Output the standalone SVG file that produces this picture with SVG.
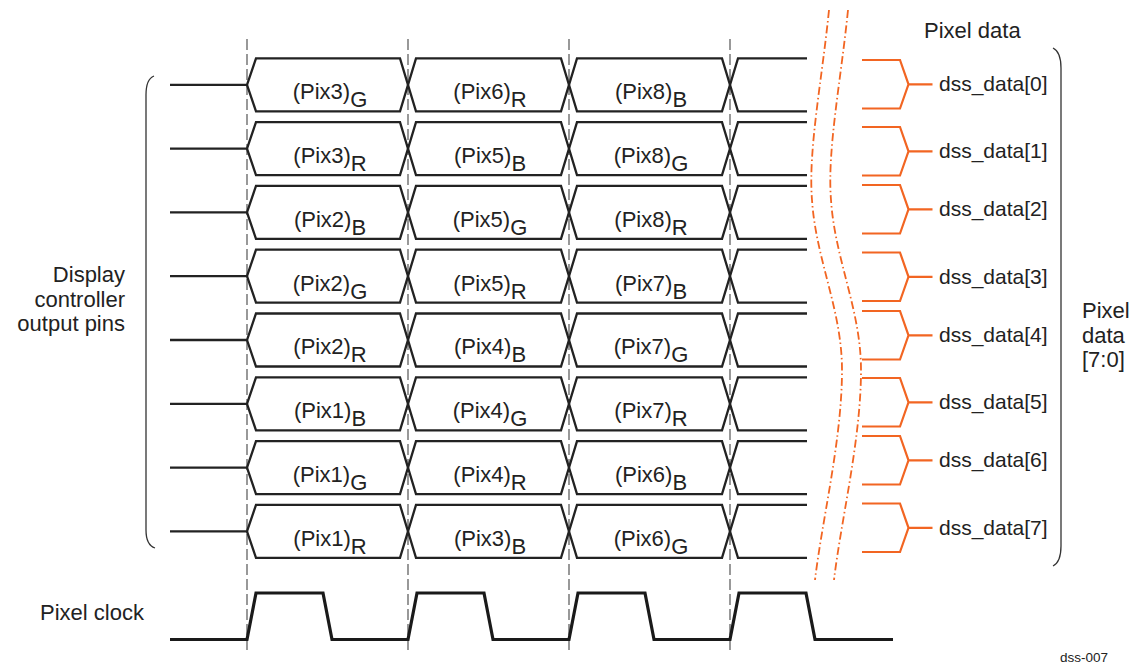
<svg xmlns="http://www.w3.org/2000/svg" width="1129" height="664" viewBox="0 0 1129 664">
<style>
.bus{fill:none;stroke:#222;stroke-width:2.3;stroke-linejoin:miter}
.clk{fill:none;stroke:#1a1a1a;stroke-width:3.2;stroke-linejoin:miter}
.grid{stroke:#555;stroke-width:1.2;stroke-dasharray:11 4;fill:none}
.brk{fill:none;stroke:#F26522;stroke-width:2.2}
.cut{fill:none;stroke:#F26522;stroke-width:1.8;stroke-dasharray:8 3 1.5 3}
.brace{fill:none;stroke:#333;stroke-width:1.3}
text{font-family:"Liberation Sans",Arial,sans-serif;font-size:22px;fill:#222}
.lbl{text-anchor:middle}
.dss{font-size:21px}
.small{font-size:13.5px}
</style>
<rect width="1129" height="664" fill="#fff"/>
<g id="connectors">
<path class="grid" d="M247,39V651M408,39V651M569,39V651M730,39V651"/>
<path class="cut" d="M829,10 C822,80 808,150 812,200 C816,260 842,310 842,370 C842,440 822,520 815,580"/>
<path class="cut" d="M848,10 C841,80 827,150 831,200 C835,260 861,310 861,370 C861,440 841,520 834,580"/>
</g>
<g id="left-label">
<path class="brace" d="M154,76 Q146,79 146,95 L146,530 Q146,545 155,548"/>
<text x="125" y="282" text-anchor="end">Display</text>
<text x="125" y="307" text-anchor="end">controller</text>
<text x="125" y="331" text-anchor="end">output pins</text>
</g>
<g id="row0">
<path class="bus" d="M170,84.8H247L256,58.3H400L416,111.3H561L577,58.3H722L738,111.3H807"/>
<path class="bus" d="M247,84.8L256,111.3H400L416,58.3H561L577,111.3H722L738,58.3H807"/>
<text class="lbl" y="99.3"><tspan x="330">(Pix3)</tspan><tspan dy="8">G</tspan></text>
<text class="lbl" y="99.3"><tspan x="490">(Pix6)</tspan><tspan dy="8">R</tspan></text>
<text class="lbl" y="99.3"><tspan x="651">(Pix8)</tspan><tspan dy="8">B</tspan></text>
</g>
<g id="row1" transform="translate(0,63.8)">
<path class="bus" d="M170,84.8H247L256,58.3H400L416,111.3H561L577,58.3H722L738,111.3H807"/>
<path class="bus" d="M247,84.8L256,111.3H400L416,58.3H561L577,111.3H722L738,58.3H807"/>
<text class="lbl" y="99.3"><tspan x="330">(Pix3)</tspan><tspan dy="8">R</tspan></text>
<text class="lbl" y="99.3"><tspan x="490">(Pix5)</tspan><tspan dy="8">B</tspan></text>
<text class="lbl" y="99.3"><tspan x="651">(Pix8)</tspan><tspan dy="8">G</tspan></text>
</g>
<g id="row2" transform="translate(0,127.6)">
<path class="bus" d="M170,84.8H247L256,58.3H400L416,111.3H561L577,58.3H722L738,111.3H807"/>
<path class="bus" d="M247,84.8L256,111.3H400L416,58.3H561L577,111.3H722L738,58.3H807"/>
<text class="lbl" y="99.3"><tspan x="330">(Pix2)</tspan><tspan dy="8">B</tspan></text>
<text class="lbl" y="99.3"><tspan x="490">(Pix5)</tspan><tspan dy="8">G</tspan></text>
<text class="lbl" y="99.3"><tspan x="651">(Pix8)</tspan><tspan dy="8">R</tspan></text>
</g>
<g id="row3" transform="translate(0,191.4)">
<path class="bus" d="M170,84.8H247L256,58.3H400L416,111.3H561L577,58.3H722L738,111.3H807"/>
<path class="bus" d="M247,84.8L256,111.3H400L416,58.3H561L577,111.3H722L738,58.3H807"/>
<text class="lbl" y="99.3"><tspan x="330">(Pix2)</tspan><tspan dy="8">G</tspan></text>
<text class="lbl" y="99.3"><tspan x="490">(Pix5)</tspan><tspan dy="8">R</tspan></text>
<text class="lbl" y="99.3"><tspan x="651">(Pix7)</tspan><tspan dy="8">B</tspan></text>
</g>
<g id="row4" transform="translate(0,255.2)">
<path class="bus" d="M170,84.8H247L256,58.3H400L416,111.3H561L577,58.3H722L738,111.3H807"/>
<path class="bus" d="M247,84.8L256,111.3H400L416,58.3H561L577,111.3H722L738,58.3H807"/>
<text class="lbl" y="99.3"><tspan x="330">(Pix2)</tspan><tspan dy="8">R</tspan></text>
<text class="lbl" y="99.3"><tspan x="490">(Pix4)</tspan><tspan dy="8">B</tspan></text>
<text class="lbl" y="99.3"><tspan x="651">(Pix7)</tspan><tspan dy="8">G</tspan></text>
</g>
<g id="row5" transform="translate(0,319)">
<path class="bus" d="M170,84.8H247L256,58.3H400L416,111.3H561L577,58.3H722L738,111.3H807"/>
<path class="bus" d="M247,84.8L256,111.3H400L416,58.3H561L577,111.3H722L738,58.3H807"/>
<text class="lbl" y="99.3"><tspan x="330">(Pix1)</tspan><tspan dy="8">B</tspan></text>
<text class="lbl" y="99.3"><tspan x="490">(Pix4)</tspan><tspan dy="8">G</tspan></text>
<text class="lbl" y="99.3"><tspan x="651">(Pix7)</tspan><tspan dy="8">R</tspan></text>
</g>
<g id="row6" transform="translate(0,382.8)">
<path class="bus" d="M170,84.8H247L256,58.3H400L416,111.3H561L577,58.3H722L738,111.3H807"/>
<path class="bus" d="M247,84.8L256,111.3H400L416,58.3H561L577,111.3H722L738,58.3H807"/>
<text class="lbl" y="99.3"><tspan x="330">(Pix1)</tspan><tspan dy="8">G</tspan></text>
<text class="lbl" y="99.3"><tspan x="490">(Pix4)</tspan><tspan dy="8">R</tspan></text>
<text class="lbl" y="99.3"><tspan x="651">(Pix6)</tspan><tspan dy="8">B</tspan></text>
</g>
<g id="row7" transform="translate(0,446.6)">
<path class="bus" d="M170,84.8H247L256,58.3H400L416,111.3H561L577,58.3H722L738,111.3H807"/>
<path class="bus" d="M247,84.8L256,111.3H400L416,58.3H561L577,111.3H722L738,58.3H807"/>
<text class="lbl" y="99.3"><tspan x="330">(Pix1)</tspan><tspan dy="8">R</tspan></text>
<text class="lbl" y="99.3"><tspan x="490">(Pix3)</tspan><tspan dy="8">B</tspan></text>
<text class="lbl" y="99.3"><tspan x="651">(Pix6)</tspan><tspan dy="8">G</tspan></text>
</g>
<g id="pixel-clock">
<path class="clk" d="M170,639.5H247L256,593H323L332,639.5H408L417,593H484L493,639.5H569L578,593H645L654,639.5H730L739,593H806L815,639.5H893"/>
<text x="40" y="620">Pixel clock</text>
</g>
<g id="pixel-data">
<text x="924" y="38">Pixel data</text>
<g id="dss0" transform="translate(0,60)"><path class="brk" d="M862,0H900L908.5,24.3L900,48.5H862M908.5,24.3H932.5"/><text class="dss" x="939" y="31.3">dss_data[0]</text></g>
<g id="dss1" transform="translate(0,127)"><path class="brk" d="M862,0H900L908.5,24.3L900,48.5H862M908.5,24.3H932.5"/><text class="dss" x="939" y="31.3">dss_data[1]</text></g>
<g id="dss2" transform="translate(0,185)"><path class="brk" d="M862,0H900L908.5,24.3L900,48.5H862M908.5,24.3H932.5"/><text class="dss" x="939" y="31.3">dss_data[2]</text></g>
<g id="dss3" transform="translate(0,252.5)"><path class="brk" d="M862,0H900L908.5,24.3L900,48.5H862M908.5,24.3H932.5"/><text class="dss" x="939" y="31.3">dss_data[3]</text></g>
<g id="dss4" transform="translate(0,311)"><path class="brk" d="M862,0H900L908.5,24.3L900,48.5H862M908.5,24.3H932.5"/><text class="dss" x="939" y="31.3">dss_data[4]</text></g>
<g id="dss5" transform="translate(0,378)"><path class="brk" d="M862,0H900L908.5,24.3L900,48.5H862M908.5,24.3H932.5"/><text class="dss" x="939" y="31.3">dss_data[5]</text></g>
<g id="dss6" transform="translate(0,436)"><path class="brk" d="M862,0H900L908.5,24.3L900,48.5H862M908.5,24.3H932.5"/><text class="dss" x="939" y="31.3">dss_data[6]</text></g>
<g id="dss7" transform="translate(0,503.5)"><path class="brk" d="M862,0H900L908.5,24.3L900,48.5H862M908.5,24.3H932.5"/><text class="dss" x="939" y="31.3">dss_data[7]</text></g>
<path class="brace" d="M1053,48 Q1061,52 1061,68 L1061,546 Q1061,562 1053,566"/>
<text x="1082" y="318">Pixel</text>
<text x="1082" y="343">data</text>
<text x="1082" y="367">[7:0]</text>
</g>
<text class="small" x="1060" y="662">dss-007</text>
</svg>
